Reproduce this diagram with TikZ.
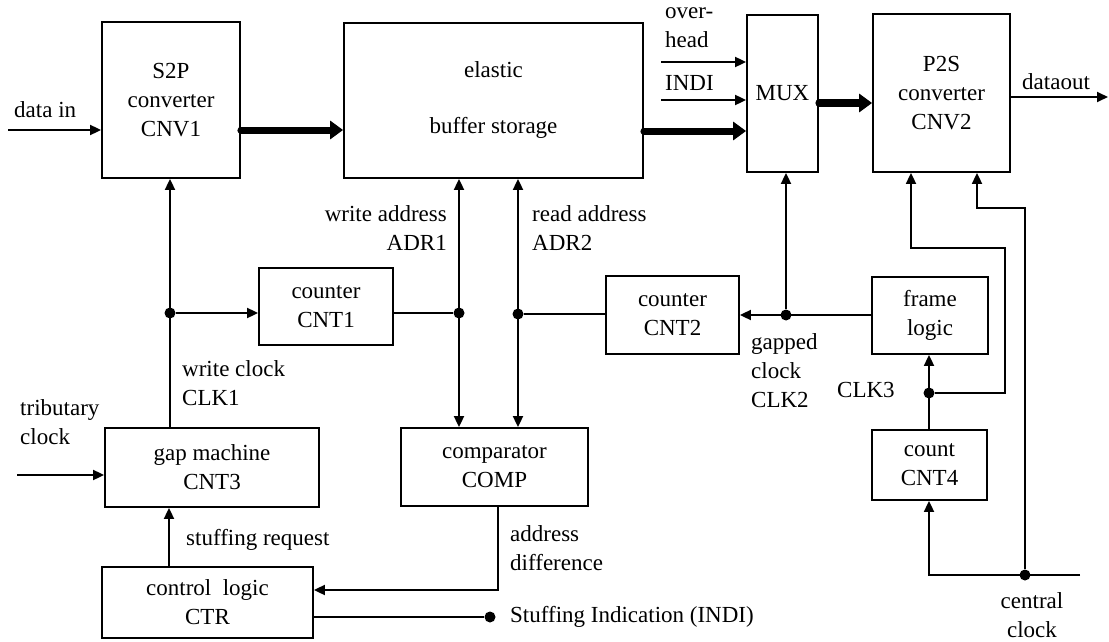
\documentclass[tikz,border=0pt]{standalone}
\usepackage{fontspec}
\setmainfont{Liberation Serif}
\usetikzlibrary{arrows.meta,calc}
\begin{document}
\begin{tikzpicture}[x=1pt,y=-1pt,
  every node/.style={font=\fontsize{23pt}{29pt}\selectfont, inner sep=0pt},
  blk/.style={draw, line width=1.8pt, align=center},
  lbl/.style={align=left, anchor=west},
  arr/.style={line width=1.8pt, -{Triangle[length=11pt,width=10pt]}},
  darr/.style={line width=1.8pt, {Triangle[length=11pt,width=10pt]}-{Triangle[length=11pt,width=10pt]}},
  wire/.style={line width=1.8pt},
  bus/.style={line width=7pt, line cap=round, -{Triangle[length=13pt,width=18pt]}},
  dot/.style={circle, fill, minimum size=11pt, inner sep=0pt}]
\useasboundingbox (0,0) rectangle (1109,642);

% boxes
\node[blk, minimum width=138pt, minimum height=156pt] (s2p) at (171,100) {S2P\\converter\\CNV1};
\node[blk, minimum width=299pt, minimum height=155pt] (buf) at (493.5,100.5) {elastic\\[27pt]buffer storage};
\node[blk, minimum width=71pt, minimum height=157pt] (mux) at (782.5,93.5) {\raisebox{-6pt}{MUX}};
\node[blk, minimum width=137pt, minimum height=158pt] (p2s) at (941.5,93) {P2S\\converter\\CNV2};
\node[blk, minimum width=134pt, minimum height=77pt] (cnt1) at (326,306.5) {counter\\CNT1};
\node[blk, minimum width=133pt, minimum height=78pt] (cnt2) at (672.5,315) {counter\\CNT2};
\node[blk, minimum width=116pt, minimum height=77pt] (frame) at (930,315.5) {frame\\logic};
\node[blk, minimum width=214pt, minimum height=79pt] (gap) at (212,467.5) {gap machine\\CNT3};
\node[blk, minimum width=187pt, minimum height=78pt] (comp) at (494.5,467) {comparator\\COMP};
\node[blk, minimum width=211pt, minimum height=71pt] (ctr) at (207.5,602.5) {control\ \ logic\\CTR};
\node[blk, minimum width=115pt, minimum height=70pt] (cnt4) at (929.5,465) {count\\CNT4};

% data path
\coordinate (din) at (8,130);
\draw[arr] (din) -- (din -| s2p.west);
\draw[bus] (s2p.east |- din) -- (buf.west |- din);
\coordinate (b1) at (643,131);
\draw[bus] (buf.east |- b1) -- (mux.west |- b1);
\coordinate (oh) at (661,62);
\draw[arr] (oh) -- (oh -| mux.west);
\coordinate (ind) at (661,100);
\draw[arr] (ind) -- (ind -| mux.west);
\coordinate (b2) at (818,103);
\draw[bus] (mux.east |- b2) -- (p2s.west |- b2);
\coordinate (dout) at (1108,97);
\draw[arr] (p2s.east |- dout) -- (dout);

% write clock
\coordinate (wc) at (170,313);
\node[dot] (dw) at (wc) {};
\draw[arr] (gap.north -| wc) -- (s2p.south -| wc);
\draw[arr] (dw) -- (dw -| cnt1.west);
\coordinate (sr) at (169,0);
\draw[arr] (ctr.north -| sr) -- (gap.south -| sr);
\coordinate (tc) at (17,475);
\draw[arr] (tc) -- (tc -| gap.west);

% addresses
\coordinate (a1) at (459,313);
\node[dot] (da1) at (a1) {};
\draw[wire] (cnt1.east |- a1) -- (da1);
\draw[darr] (buf.south -| a1) -- (comp.north -| a1);
\coordinate (a2) at (518,314);
\node[dot] (da2) at (a2) {};
\draw[wire] (da2) -- (da2 -| cnt2.west);
\draw[darr] (buf.south -| a2) -- (comp.north -| a2);

% gapped clock
\coordinate (g) at (786,315);
\node[dot] (dg) at (g) {};
\draw[arr] (frame.west |- g) -- (g -| cnt2.east);
\draw[arr] (dg) -- (dg |- mux.south);

% CLK3
\coordinate (c3) at (929,393);
\node[dot] (dc3) at (c3) {};
\draw[arr] (cnt4.north -| c3) -- (frame.south -| c3);
\coordinate (r1) at (1005,248);
\coordinate (p1) at (911,248);
\draw[arr] (dc3) -| (r1) -- (p1) -- (p1 |- p2s.south);

% central clock
\coordinate (cc) at (1080,575);
\coordinate (cc4) at (929,575);
\node[dot] (dcc) at (1025,575) {};
\draw[arr] (cc) -- (cc4) -- (cc4 |- cnt4.south);
\coordinate (r2) at (977,208);
\draw[arr] (dcc) |- (r2) -- (r2 |- p2s.south);

% address difference and stuffing
\coordinate (ad) at (498,590);
\draw[arr] (comp.south -| ad) -- (ad) -- (ad -| ctr.east);
\node[dot] (dsi) at (490,617) {};
\draw[wire] (ctr.east |- dsi) -- (dsi);

% labels
\node[lbl] (tdin) at (14,110) {data in};
\node[lbl] (ttrib) at (20,422) {tributary\\clock};
\node[lbl] (twc) at (182,383) {write clock\\CLK1};
\node[align=right, anchor=east] (twa) at (447,228) {write address\\ADR1};
\node[lbl] (tra) at (532,228) {read address\\ADR2};
\node[lbl] (toh) at (665,28) {over-\\head};
\node[lbl] (tind) at (665,83) {INDI};
\node[lbl] (tdout) at (1022,82) {dataout};
\node[lbl] (tgc) at (751,371) {gapped\\clock\\CLK2};
\node[lbl] (tc3) at (837,390) {CLK3};
\node[align=center] (tcc) at (1032,615) {central\\clock};
\node[lbl] (tsr) at (186,540) {stuffing request};
\node[lbl] (tad) at (510,548) {address\\difference};
\node[lbl] (tsi) at (510,617) {Stuffing Indication (INDI)};
\end{tikzpicture}
\end{document}
